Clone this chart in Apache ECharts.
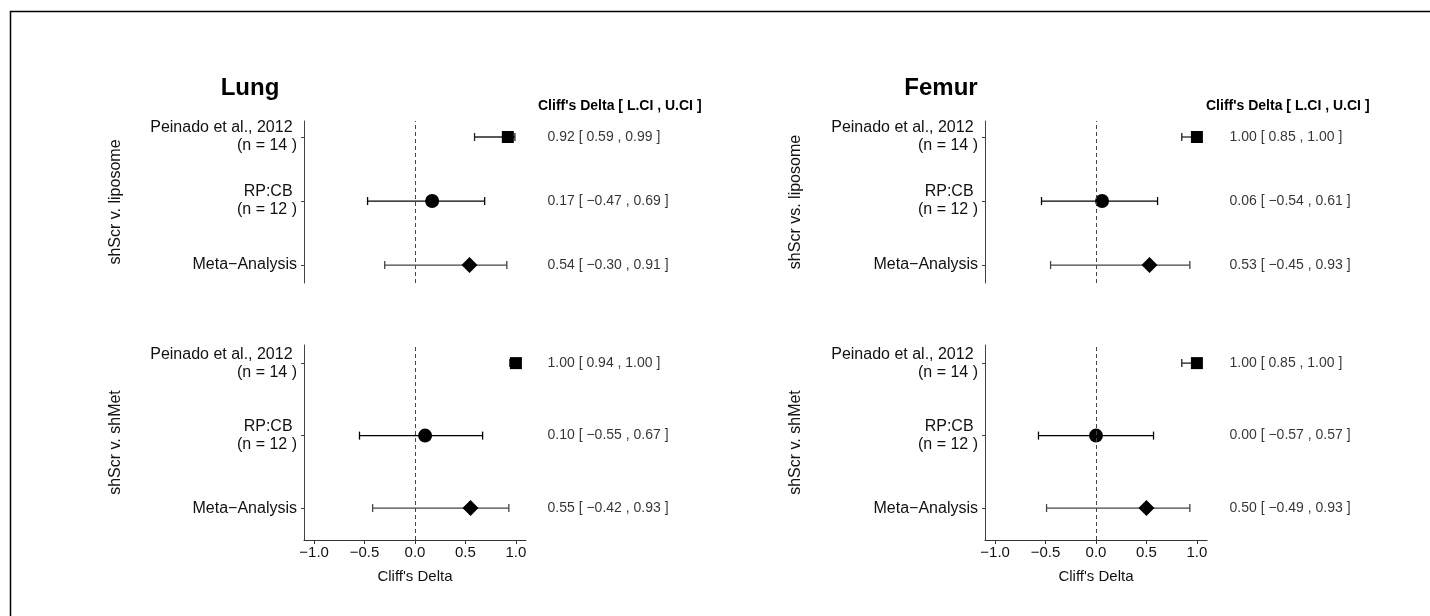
<!DOCTYPE html>
<html><head><meta charset="utf-8">
<script src="https://cdn.jsdelivr.net/npm/echarts@6/dist/echarts.min.js"></script>
<style>html,body{margin:0;padding:0;background:#fff}#c{width:1430px;height:616px}</style>
</head><body><div id="c"></div>
<script>
// ---------- data ----------
const studies = ['Peinado et al., 2012 \n(n = 14 )', 'RP:CB \n(n = 12 )', 'Meta\u2212Analysis'];
const rowPos = [3, 2, 1];
const xTicks = [-1, -0.5, 0, 0.5, 1];
const tissues = ['Lung', 'Femur'];
const comparisonsLung = ['shScr v. liposome', 'shScr v. shMet'];
const comparisonsFemur = ['shScr vs. liposome', 'shScr v. shMet'];
const headerText = "Cliff's Delta [ L.CI , U.CI ]";
const xName = "Cliff's Delta";

const lungLipEst = [0.92, 0.17, 0.54];
const lungLipLo  = [0.59, -0.47, -0.30];
const lungLipHi  = [0.99, 0.69, 0.91];

const lungMetEst = [1.00, 0.10, 0.55];
const lungMetLo  = [0.94, -0.55, -0.42];
const lungMetHi  = [1.00, 0.67, 0.93];

const femurLipEst = [1.00, 0.06, 0.53];
const femurLipLo  = [0.85, -0.54, -0.45];
const femurLipHi  = [1.00, 0.61, 0.93];

const femurMetEst = [1.00, 0.00, 0.50];
const femurMetLo  = [0.85, -0.57, -0.49];
const femurMetHi  = [1.00, 0.57, 0.93];

// ---------- styling / layout ----------
const FONT = "'Liberation Sans', Arial, Helvetica, sans-serif";
const shapes = ['rect', 'circle', 'diamond'];
const shapeSizes = [[12, 12], [14, 14], [16, 16]];
const barColors = ['#222', '#000', '#444'];
const TXT = '#111';

const panels = [
  {est: lungLipEst, lo: lungLipLo, hi: lungLipHi, name: comparisonsLung[0], left: 304, textLeft: 547, top: 121, height: 162, ymin: 0.72, bottom: false, gap: 180},
  {est: lungMetEst, lo: lungMetLo, hi: lungMetHi, name: comparisonsLung[1], left: 304, textLeft: 547, top: 345, height: 195, ymin: 0.56, bottom: true, gap: 180},
  {est: femurLipEst, lo: femurLipLo, hi: femurLipHi, name: comparisonsFemur[0], left: 985, textLeft: 1229, top: 121, height: 162, ymin: 0.72, bottom: false, gap: 181},
  {est: femurMetEst, lo: femurMetLo, hi: femurMetHi, name: comparisonsFemur[1], left: 985, textLeft: 1229, top: 345, height: 195, ymin: 0.56, bottom: true, gap: 181}
];
const PW = 222, YMAX = 3.25;

const fmt2 = v => v.toFixed(2).replace('-', '\u2212');
const fmt1 = v => (Math.abs(v) < 1e-9 ? 0 : v).toFixed(1).replace('-', '\u2212');

const grid = [], xAxis = [], yAxis = [], series = [];
panels.forEach((p, i) => {
  const g = i * 2, gt = i * 2 + 1;
  grid.push({left: p.left, top: p.top, width: PW, height: p.height});
  grid.push({left: p.textLeft, top: p.top, width: 150, height: p.height});
  xAxis.push({
    type: 'value', gridIndex: g, min: -1.1, max: 1.1, show: p.bottom,
    axisLine: {show: true, onZero: false, lineStyle: {color: '#333', width: 1}},
    axisTick: {show: true, length: 4, customValues: xTicks, lineStyle: {color: '#333'}},
    axisLabel: {customValues: xTicks, formatter: v => fmt1(v), fontSize: 15, color: TXT, fontFamily: FONT, margin: 5},
    splitLine: {show: false},
    name: xName, nameLocation: 'middle', nameGap: 29,
    nameTextStyle: {fontSize: 15, color: TXT, fontFamily: FONT}
  });
  xAxis.push({type: 'value', gridIndex: gt, min: 0, max: 1, show: false});
  yAxis.push({
    type: 'value', gridIndex: g, min: p.ymin, max: YMAX,
    axisLine: {show: true, onZero: false, lineStyle: {color: '#444', width: 1}},
    axisTick: {show: true, length: 3, customValues: rowPos, lineStyle: {color: '#444'}},
    axisLabel: {customValues: rowPos, formatter: v => studies[rowPos.indexOf(v)], fontSize: 16, lineHeight: 18, color: TXT, fontFamily: FONT, margin: 7},
    splitLine: {show: false},
    name: p.name, nameLocation: 'middle', nameRotate: 90, nameGap: p.gap,
    nameTextStyle: {fontSize: 16, color: TXT, fontFamily: FONT}
  });
  yAxis.push({type: 'value', gridIndex: gt, min: p.ymin, max: YMAX, show: false});

  // error bars
  series.push({
    type: 'custom', xAxisIndex: g, yAxisIndex: g, silent: true, z: 2,
    data: p.est.map((e, k) => [p.lo[k], p.hi[k], rowPos[k]]),
    encode: {x: [0, 1], y: 2},
    renderItem: (params, api) => {
      const a = api.coord([api.value(0), api.value(2)]);
      const b = api.coord([api.value(1), api.value(2)]);
      const st = {stroke: barColors[params.dataIndex], lineWidth: 1.3};
      const cap = 4;
      return {type: 'group', children: [
        {type: 'line', shape: {x1: a[0], y1: a[1], x2: b[0], y2: b[1]}, style: st},
        {type: 'line', shape: {x1: a[0], y1: a[1] - cap, x2: a[0], y2: a[1] + cap}, style: st},
        {type: 'line', shape: {x1: b[0], y1: b[1] - cap, x2: b[0], y2: b[1] + cap}, style: st}
      ]};
    }
  });
  // point estimates + zero reference line
  series.push({
    type: 'scatter', xAxisIndex: g, yAxisIndex: g, silent: true, z: 3,
    data: p.est.map((e, k) => ({value: [e, rowPos[k]], symbol: shapes[k], symbolSize: shapeSizes[k]})),
    itemStyle: {color: '#000', opacity: 1},
    markLine: {
      silent: true, symbol: ['none', 'none'], label: {show: false},
      lineStyle: {type: [4, 3], color: '#444', width: 1},
      data: [{xAxis: 0}]
    }
  });
  // effect-size text column
  series.push({
    type: 'scatter', xAxisIndex: gt, yAxisIndex: gt, silent: true,
    symbolSize: 1, itemStyle: {color: 'rgba(0,0,0,0)'},
    data: p.est.map((e, k) => [0, rowPos[k], `${fmt2(e)} [ ${fmt2(p.lo[k])} , ${fmt2(p.hi[k])} ]`]),
    label: {show: true, position: 'right', distance: 0, formatter: q => q.value[2], fontSize: 14, color: '#000', fontFamily: FONT}
  });
});

const graphic = [
  {type: 'rect', shape: {x: 10.5, y: 11.5, width: 1440, height: 640}, style: {fill: null, stroke: '#000', lineWidth: 1.5}, silent: true},
  {type: 'text', x: 250, y: 88, style: {text: tissues[0], font: `bold 24px ${FONT}`, fill: '#000', textAlign: 'center', textVerticalAlign: 'middle'}},
  {type: 'text', x: 941, y: 88, style: {text: tissues[1], font: `bold 24px ${FONT}`, fill: '#000', textAlign: 'center', textVerticalAlign: 'middle'}},
  {type: 'text', x: 538, y: 106, style: {text: headerText, font: `bold 14px ${FONT}`, fill: '#000', textAlign: 'left', textVerticalAlign: 'middle'}},
  {type: 'text', x: 1206, y: 106, style: {text: headerText, font: `bold 14px ${FONT}`, fill: '#000', textAlign: 'left', textVerticalAlign: 'middle'}}
];

const chart = echarts.init(document.getElementById('c'), null, {renderer: 'canvas'});
chart.setOption({animation: false, backgroundColor: '#fff', grid, xAxis, yAxis, series, graphic});
</script></body></html>
